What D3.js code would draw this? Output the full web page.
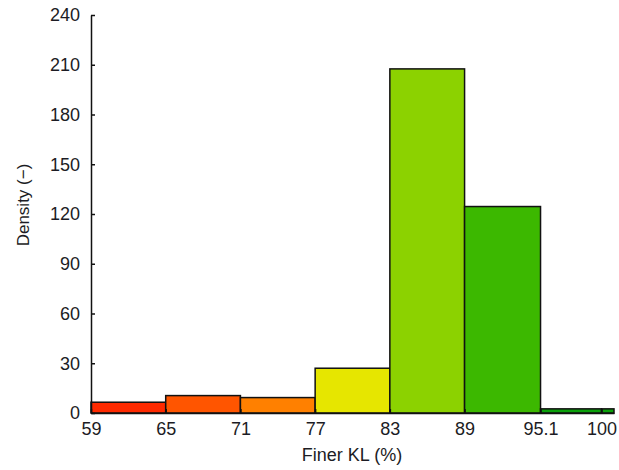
<!DOCTYPE html>
<html>
<head>
<meta charset="utf-8">
<script src="https://cdn.jsdelivr.net/npm/d3@7"></script>
<style>
  html, body { margin: 0; padding: 0; background: #fff; }
  svg { display: block; }
  .tick text { font-family: "Liberation Sans", Arial, sans-serif; font-size: 18px; fill: #1c1c24; }
</style>
</head>
<body>
<svg id="chart" width="619" height="470"></svg>
<script>
// Histogram bin edges (Finer KL, %) and the density of each bin
const binEdges = [59, 65, 71, 77, 83, 89, 95.1, 100, 101];
const densities = [6.5, 10.5, 9.3, 27, 207.5, 124.5, 2.5, 2.5];
const binColors = ["#ff2a00", "#ff5500", "#ff8000", "#e6e600", "#8cd200", "#3cb800", "#0aa00a", "#0aa00a"];
const xTickValues = [59, 65, 71, 77, 83, 89, 95.1, 100];
const yTickValues = [0, 30, 60, 90, 120, 150, 180, 210, 240];

const svg = d3.select("#chart");
const plot = { left: 91, right: 614, top: 15, bottom: 413 };

const x = d3.scaleLinear().domain([59, 101]).range([plot.left, plot.right]);
const y = d3.scaleLinear().domain([0, 240]).range([plot.bottom, plot.top]);

const bins = densities.map((d, i) => ({ x0: binEdges[i], x1: binEdges[i + 1], value: d, color: binColors[i] }));

svg.append("g")
  .selectAll("rect")
  .data(bins)
  .join("rect")
  .attr("x", d => x(d.x0))
  .attr("y", d => y(d.value))
  .attr("width", d => x(d.x1) - x(d.x0))
  .attr("height", d => y(0) - y(d.value))
  .attr("fill", d => d.color)
  .attr("stroke", "#111")
  .attr("stroke-width", 1.5);

// Axes with short inward ticks
const xAxis = d3.axisBottom(x)
  .tickValues(xTickValues)
  .tickFormat(d => String(d))
  .tickSizeInner(-4)
  .tickSizeOuter(0)
  .tickPadding(9);

const yAxis = d3.axisLeft(y)
  .tickValues(yTickValues)
  .tickFormat(d3.format("d"))
  .tickSizeInner(-4)
  .tickSizeOuter(0)
  .tickPadding(11);

const gx = svg.append("g").attr("transform", `translate(0,${plot.bottom})`).call(xAxis);
gx.select(".domain").attr("stroke", "#111").attr("stroke-width", 1.5);
gx.selectAll(".tick line").attr("stroke", "#111").attr("stroke-width", 1.5);

const gy = svg.append("g").attr("transform", `translate(${plot.left},0)`).call(yAxis);
gy.select(".domain").attr("stroke", "#111").attr("stroke-width", 1.5);
gy.selectAll(".tick line").attr("stroke", "#111").attr("stroke-width", 1.5);

// Axis titles
svg.append("text")
  .attr("x", 352)
  .attr("y", 461)
  .attr("text-anchor", "middle")
  .style("font-family", "'Liberation Sans', Arial, sans-serif")
  .style("font-size", "18px")
  .style("fill", "#1c1c24")
  .text("Finer KL (%)");

svg.append("text")
  .attr("transform", "translate(29,205) rotate(-90)")
  .attr("text-anchor", "middle")
  .style("font-family", "'Liberation Sans', Arial, sans-serif")
  .style("font-size", "17px")
  .style("fill", "#1c1c24")
  .text("Density (\u2212)");
</script>
</body>
</html>
